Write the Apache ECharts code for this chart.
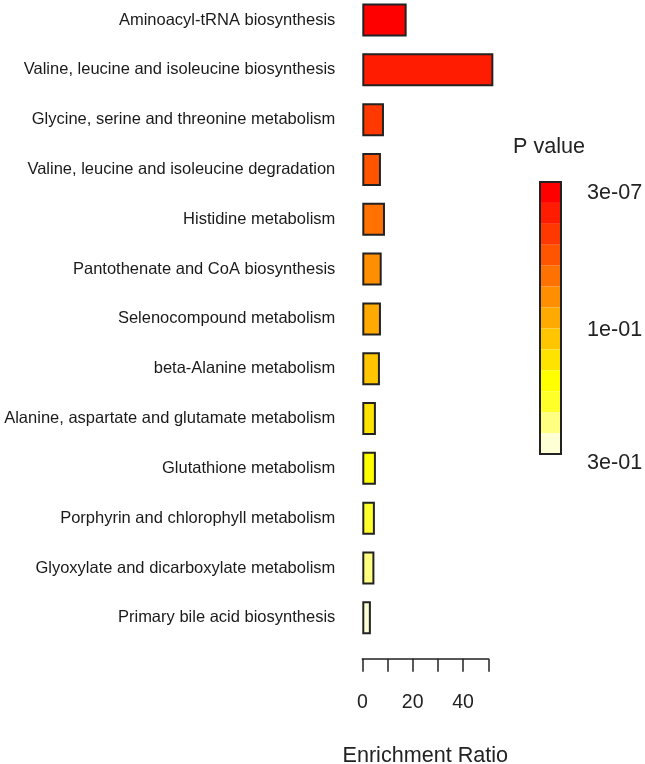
<!DOCTYPE html>
<html>
<head>
<meta charset="utf-8">
<script src="https://cdn.jsdelivr.net/npm/echarts@6/dist/echarts.min.js"></script>
<style>
html,body{margin:0;padding:0;background:#fff;}
#chart{width:645px;height:764px;}
</style>
</head>
<body>
<div id="chart"></div>
<script>
const pathways = [
  "Aminoacyl-tRNA biosynthesis",
  "Valine, leucine and isoleucine biosynthesis",
  "Glycine, serine and threonine metabolism",
  "Valine, leucine and isoleucine degradation",
  "Histidine metabolism",
  "Pantothenate and CoA biosynthesis",
  "Selenocompound metabolism",
  "beta-Alanine metabolism",
  "Alanine, aspartate and glutamate metabolism",
  "Glutathione metabolism",
  "Porphyrin and chlorophyll metabolism",
  "Glyoxylate and dicarboxylate metabolism",
  "Primary bile acid biosynthesis"
];
const enrichmentRatio = [17.6, 52.0, 8.6, 7.4, 9.0, 7.7, 7.4, 7.0, 5.4, 5.4, 5.0, 4.8, 3.4];
const barColors = ["#FF0000","#FF1C00","#FF3800","#FF5500","#FF7100","#FF8E00","#FFAA00","#FFC600","#FFE300","#FFFF00","#FFFF2A","#FFFF80","#FFFFD5"];
const legendColors = barColors.slice();
const legendLabels = ["3e-07", "1e-01", "3e-01"];
const xTicks = [0, 10, 20, 30, 40, 50];

const chart = echarts.init(document.getElementById('chart'), null, {renderer:'canvas'});
const font = 'Liberation Sans, Arial, sans-serif';
chart.setOption({
  animation: false,
  backgroundColor: '#ffffff',
  grid: [
    {left: 362.3, width: 126, top: -4.9, height: 647.6, containLabel: false, outerBoundsMode: 'none'},
    {left: 540, width: 21, top: 182, height: 272, show: true, borderColor: '#222', borderWidth: 2,
     backgroundColor: 'transparent', outerBoundsMode: 'none', z: 5}
  ],
  xAxis: [
    {
      gridIndex: 0, type: 'value', min: xTicks[0], max: xTicks[xTicks.length-1], interval: 10,
      offset: 16,
      axisLine: {show: true, lineStyle: {color: '#222', width: 1.5}},
      axisTick: {show: true, length: 13, lineStyle: {color: '#222', width: 1.5}},
      axisLabel: {margin: 34, fontSize: 19.5, color: '#222', fontFamily: font,
        formatter: v => (v % 20 === 0 ? String(v) : '')},
      splitLine: {show: false},
      name: 'Enrichment Ratio', nameLocation: 'middle', nameGap: 86,
      nameTextStyle: {fontSize: 21.6, color: '#222', fontFamily: font}
    },
    {gridIndex: 1, type: 'value', min: 0, max: 1, show: false}
  ],
  yAxis: [
    {
      gridIndex: 0, type: 'category', data: pathways, inverse: true,
      axisLine: {show: false}, axisTick: {show: false},
      axisLabel: {margin: 27, fontSize: 16.5, color: '#1a1a1a', fontFamily: font}
    },
    {gridIndex: 1, type: 'category', data: legendColors.map((c, i) => i), inverse: true, show: false}
  ],
  series: [
    {
      type: 'bar', xAxisIndex: 0, yAxisIndex: 0, clip: false, barWidth: 33,
      data: enrichmentRatio.map((v, i) => ({value: v, itemStyle: {color: barColors[i]}})),
      itemStyle: {borderColor: '#222', borderWidth: 2}
    },
    {
      type: 'bar', xAxisIndex: 1, yAxisIndex: 1, barWidth: '100%', z: 1,
      data: legendColors.map(c => ({value: 1, itemStyle: {color: c}})),
      itemStyle: {borderWidth: 0}
    }
  ],
  graphic: [
    {type: 'text', x: 513, y: 147.5, z: 10, style: {text: 'P value', fontSize: 21.6, fill: '#222', fontFamily: font, verticalAlign: 'middle'}},
    {type: 'text', x: 587, y: 193, z: 10, style: {text: legendLabels[0], fontSize: 21.6, fill: '#222', fontFamily: font, verticalAlign: 'middle'}},
    {type: 'text', x: 587, y: 330, z: 10, style: {text: legendLabels[1], fontSize: 21.6, fill: '#222', fontFamily: font, verticalAlign: 'middle'}},
    {type: 'text', x: 587, y: 463.5, z: 10, style: {text: legendLabels[2], fontSize: 21.6, fill: '#222', fontFamily: font, verticalAlign: 'middle'}}
  ]
});
</script>
</body>
</html>
